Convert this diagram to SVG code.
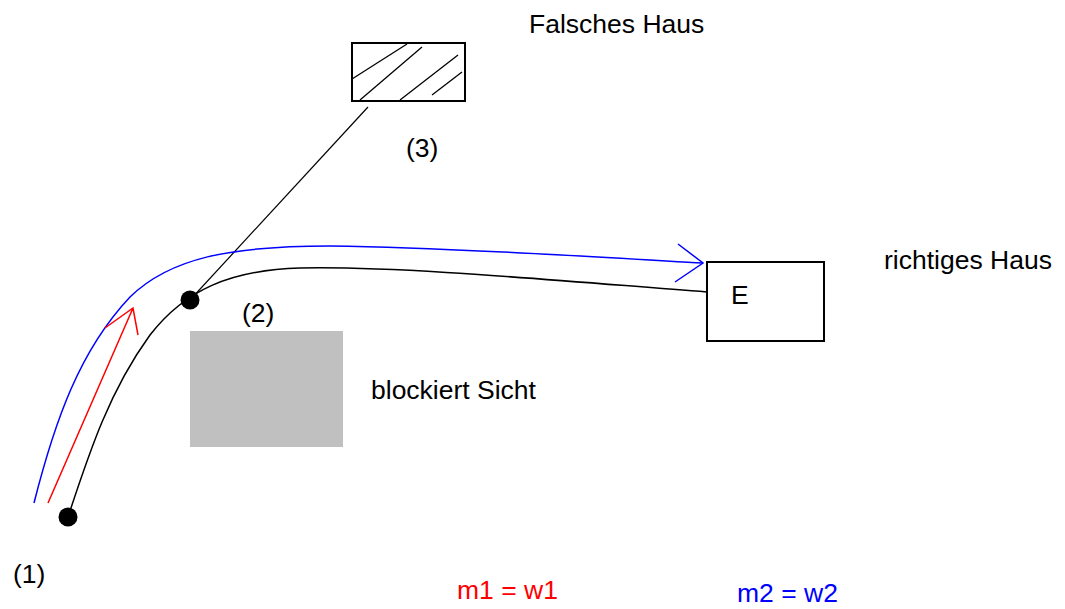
<svg xmlns="http://www.w3.org/2000/svg" width="1065" height="609" viewBox="0 0 1065 609">
<style>
.t{font-family:"Liberation Sans",Arial,sans-serif;font-size:26.5px;fill:#000}
.ln{fill:none;stroke:#000;stroke-width:1.5}
</style>
<rect width="1065" height="609" fill="#fff"/>
<g id="falsches-haus">
<rect x="352" y="43" width="113" height="58" fill="#fff" stroke="#000" stroke-width="2"/>
<g stroke="#000" stroke-width="1.3">
<line x1="352" y1="79" x2="407" y2="44"/>
<line x1="360" y1="100" x2="422" y2="47"/>
<line x1="400" y1="100" x2="458" y2="55"/>
<line x1="432" y1="95" x2="462" y2="72"/>
</g>
<text class="t" x="529" y="33">Falsches Haus</text>
<text class="t" x="406" y="157">(3)</text>
</g>
<g id="hindernis">
<rect x="190" y="331" width="153" height="116" fill="#c0c0c0"/>
<text class="t" x="371" y="399">blockiert Sicht</text>
</g>
<g id="richtiges-haus">
<rect x="707" y="262" width="117" height="79" fill="#fff" stroke="#000" stroke-width="2"/>
<text class="t" x="731" y="304">E</text>
<text class="t" x="884" y="269">richtiges Haus</text>
</g>
<g id="connectors">
<line x1="368" y1="107" x2="190" y2="300" stroke="#000" stroke-width="1.2"/>
<path class="ln" d="M68,517 C90,450 110,390 150,335 C185,290 230,270 300,268 C400,266 550,280 707,292"/>
<path fill="none" stroke="#0000ff" stroke-width="1.5" d="M34,503 C55,420 80,350 130,297 C170,258 230,246 330,246 C450,248 580,256 703,263"/>
<path fill="none" stroke="#0000ff" stroke-width="1.5" d="M678,244 L703,263 L675,282"/>
<path fill="none" stroke="#ff0000" stroke-width="1.5" d="M48,503 L133,308 M105,328 L133,308 L138,335"/>
</g>
<g id="punkte">
<circle cx="190" cy="300" r="9.5" fill="#000"/>
<circle cx="68" cy="517" r="9.5" fill="#000"/>
<text class="t" x="242" y="322">(2)</text>
<text class="t" x="13" y="583">(1)</text>
</g>
<g id="legende">
<text class="t" x="457" y="599" style="fill:#ff0000">m1 = w1</text>
<text class="t" x="737" y="602" style="fill:#0000ff">m2 = w2</text>
</g>
</svg>
